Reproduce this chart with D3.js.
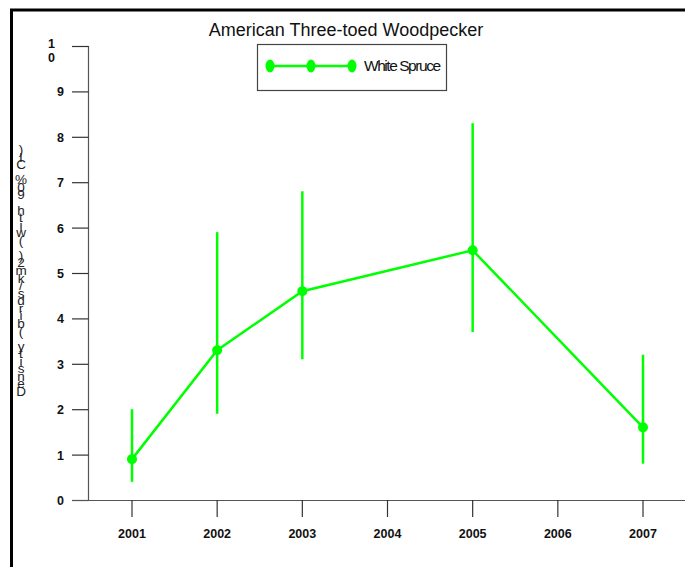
<!DOCTYPE html>
<html>
<head>
<meta charset="utf-8">
<script src="https://cdn.jsdelivr.net/npm/d3@7"></script>
<style>
  html, body { margin: 0; padding: 0; background: #fff; }
  svg { display: block; font-family: "Liberation Sans", Arial, sans-serif; }
</style>
</head>
<body>
<svg id="chart" width="685" height="567"></svg>
<script>
// Survey years and density estimates (birds/km2) with 90% confidence limits
const years    = [2001, 2002, 2003, 2005, 2007];
const density  = [0.9, 3.3, 4.6, 5.5, 1.6];
const ciLow    = [0.4, 1.9, 3.1, 3.7, 0.8];
const ciHigh   = [2.0, 5.9, 6.8, 8.3, 3.2];
const xTicks   = [2001, 2002, 2003, 2004, 2005, 2006, 2007];
const yTicks   = [0, 1, 2, 3, 4, 5, 6, 7, 8, 9, 10];
const seriesName = "White Spruce";
const title    = "American Three-toed Woodpecker";
const yLabel   = "Density (birds/km2) (with 90% CI)";

const green = "#00ff00";
const svg = d3.select("#chart");

const x = d3.scaleLinear().domain([2001, 2007]).range([132, 643]);
const y = d3.scaleLinear().domain([0, 10]).range([500, 46]);

// outer frame (top and left edges)
svg.append("line").attr("x1", 10).attr("x2", 685).attr("y1", 10).attr("y2", 10)
  .attr("stroke", "#000").attr("stroke-width", 3);
svg.append("line").attr("x1", 11.5).attr("x2", 11.5).attr("y1", 9).attr("y2", 567)
  .attr("stroke", "#000").attr("stroke-width", 3);

// title
svg.append("text").attr("x", 346).attr("y", 36).attr("text-anchor", "middle")
  .attr("font-size", 18).attr("fill", "#111").text(title);

// y axis
const yAxis = svg.append("g");
yAxis.append("line").attr("x1", 88.5).attr("x2", 88.5).attr("y1", y(10)).attr("y2", y(0))
  .attr("stroke", "#555").attr("stroke-width", 1.2);
yAxis.selectAll("line.tick").data(yTicks).join("line").attr("class", "tick")
  .attr("x1", 72).attr("x2", 88.5)
  .attr("y1", d => y(d) + 0.5).attr("y2", d => y(d) + 0.5)
  .attr("stroke", "#333").attr("stroke-width", 1.2);
yAxis.selectAll("text.lab").data(yTicks).join("text").attr("class", "lab")
  .attr("font-size", 12.5).attr("font-weight", "bold").attr("fill", "#111")
  .each(function (d) {
    const t = d3.select(this);
    const s = String(d);
    if (s.length > 1) {
      // two-digit label wraps onto two lines
      s.split("").forEach((ch, i) => {
        t.append("tspan").attr("x", 55).attr("y", y(d) + 2 + i * 14)
          .attr("text-anchor", "end").text(ch);
      });
    } else {
      t.attr("x", 64).attr("y", y(d) + 5).attr("text-anchor", "end").text(s);
    }
  });

// x axis
const xAxis = svg.append("g");
xAxis.append("line").attr("x1", 72).attr("x2", 685).attr("y1", y(0) + 0.5).attr("y2", y(0) + 0.5)
  .attr("stroke", "#555").attr("stroke-width", 1.2);
xAxis.selectAll("line.tick").data(xTicks).join("line").attr("class", "tick")
  .attr("x1", d => x(d)).attr("x2", d => x(d))
  .attr("y1", y(0)).attr("y2", y(0) + 17)
  .attr("stroke", "#333").attr("stroke-width", 1.2);
xAxis.selectAll("text").data(xTicks).join("text")
  .attr("x", d => x(d)).attr("y", y(0) + 38).attr("text-anchor", "middle")
  .attr("font-size", 12.5).attr("font-weight", "bold").attr("fill", "#111")
  .text(d => d);

// y axis label: upright characters stacked bottom to top
const chars = yLabel.split("");
const lab = svg.append("text").attr("font-size", 13.5).attr("fill", "#222")
  .attr("text-anchor", "middle");
const step = (392 - 150) / (chars.length - 1);
chars.forEach((ch, i) => {
  lab.append("tspan").attr("x", 21).attr("y", 392 - i * step + 4).text(ch);
});

// error bars
const rows = years.map((yr, i) => ({ yr, v: density[i], lo: ciLow[i], hi: ciHigh[i] }));
svg.append("g").selectAll("line").data(rows).join("line")
  .attr("x1", d => x(d.yr)).attr("x2", d => x(d.yr))
  .attr("y1", d => y(d.lo)).attr("y2", d => y(d.hi))
  .attr("stroke", green).attr("stroke-width", 2.5);

// series line and markers
svg.append("path").datum(rows)
  .attr("d", d3.line().x(d => x(d.yr)).y(d => y(d.v)))
  .attr("fill", "none").attr("stroke", green).attr("stroke-width", 2.5);
svg.append("g").selectAll("circle").data(rows).join("circle")
  .attr("cx", d => x(d.yr)).attr("cy", d => y(d.v)).attr("r", 5)
  .attr("fill", green);

// legend
const lg = svg.append("g");
lg.append("rect").attr("x", 257.5).attr("y", 44.5).attr("width", 189).attr("height", 46)
  .attr("fill", "#fff").attr("stroke", "#444").attr("stroke-width", 1.2);
lg.append("line").attr("x1", 270).attr("x2", 352).attr("y1", 66).attr("y2", 66)
  .attr("stroke", green).attr("stroke-width", 2.5);
lg.selectAll("ellipse").data([270, 311, 352]).join("ellipse")
  .attr("cx", d => d).attr("cy", 66).attr("rx", 4.5).attr("ry", 6.5).attr("fill", green);
lg.append("text").attr("x", 364).attr("y", 71).attr("font-size", 15.5)
  .attr("letter-spacing", -1.45).attr("fill", "#111").text(seriesName);
</script>
</body>
</html>
